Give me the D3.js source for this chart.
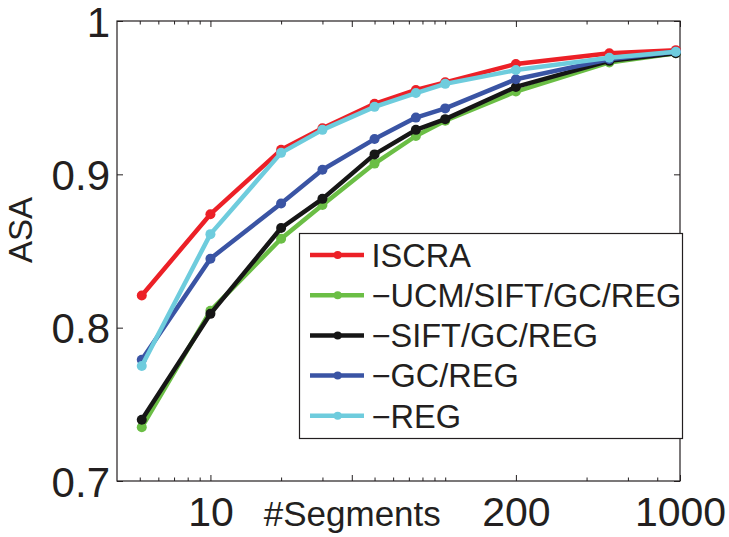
<!DOCTYPE html>
<html>
<head>
<meta charset="utf-8">
<script src="https://cdn.jsdelivr.net/npm/d3@7"></script>
<style>
  body { margin: 0; background: #fff; }
  svg { display: block; font-family: "Liberation Sans", Arial, Helvetica, sans-serif; }
</style>
</head>
<body>
<div id="main"></div>
<script>
// DATA
var segments = [5.1, 10, 20, 30, 50, 75, 100, 200, 500, 960]

var iscra      = [0.821, 0.874, 0.916, 0.930, 0.946, 0.955, 0.960, 0.972, 0.979, 0.981]
var noUcm      = [0.735, 0.811, 0.858, 0.880, 0.907, 0.925, 0.935, 0.954, 0.973, 0.979]
var noSift     = [0.740, 0.809, 0.865, 0.884, 0.913, 0.929, 0.936, 0.957, 0.974, 0.979]
var noGc       = [0.779, 0.845, 0.881, 0.903, 0.923, 0.937, 0.943, 0.962, 0.975, 0.980]
var noReg      = [0.775, 0.861, 0.914, 0.929, 0.944, 0.953, 0.959, 0.968, 0.976, 0.980]

var seriesNames  = ['ISCRA', '\u2212UCM/SIFT/GC/REG', '\u2212SIFT/GC/REG', '\u2212GC/REG', '\u2212REG']
var seriesValues = [iscra, noUcm, noSift, noGc, noReg]
var seriesColors = ['#ec2027', '#6bbe45', '#161616', '#3a54a4', '#6eccdd']

// x ticks: labelled ones and minor ones
var xMajorTicks  = [10, 40, 200, 1000]
var xMajorLabels = ['10', '#Segments', '200', '1000']
var xMinorTicks  = [5, 6, 7, 8, 9, 20, 30, 50, 60, 70, 80, 90, 100, 400, 600, 800]
var yTicks       = [0.7, 0.8, 0.9, 1]
var yTickLabels  = ['0.7', '0.8', '0.9', '1']

// LAYOUT
var width = 729, height = 537
var margin = {left: 117, top: 21, right: 49, bottom: 56}
var w = width - margin.left - margin.right
var h = height - margin.top - margin.bottom

var svg = d3.select('#main').append('svg')
  .attr('width', width)
  .attr('height', height)

var g = svg.append('g').attr('transform', `translate(${margin.left},${margin.top})`)

var x = d3.scaleLog().domain([4, 1000]).range([0, w])
var y = d3.scaleLinear().domain([0.7, 1]).range([h, 0])

// Axes (ticks point inward, like matlab)
function styleAxis(sel) {
  sel.select('.domain').remove()
  sel.selectAll('line').attr('stroke', '#231f20').attr('stroke-width', 1)
  sel.selectAll('text').attr('fill', '#231f20')
}

g.append('g').attr('transform', `translate(0,${h})`)
  .call(d3.axisBottom(x).tickValues(xMinorTicks).tickSize(-3.5).tickFormat(''))
  .call(styleAxis)
g.append('g')
  .call(d3.axisTop(x).tickValues(xMinorTicks).tickSize(-3.5).tickFormat(''))
  .call(styleAxis)
g.append('g')
  .call(d3.axisTop(x).tickValues(xMajorTicks).tickSize(-6).tickFormat(''))
  .call(styleAxis)

var xAxis = g.append('g').attr('transform', `translate(0,${h})`)
  .call(d3.axisBottom(x).tickValues(xMajorTicks).tickSize(-6)
    .tickFormat((d, i) => xMajorLabels[i]))
  .call(styleAxis)
xAxis.selectAll('text')
  .attr('y', 45).attr('dy', 0)
  .style('font-size', (d, i) => i == 1 ? '35px' : '41px')

var yAxis = g.append('g')
  .call(d3.axisLeft(y).tickValues(yTicks).tickSize(-6).tickPadding(7)
    .tickFormat((d, i) => yTickLabels[i]))
  .call(styleAxis)
yAxis.selectAll('text').style('font-size', '42px').attr('dy', '0.36em')

g.append('g').attr('transform', `translate(${w},0)`)
  .call(d3.axisRight(y).tickValues(yTicks).tickSize(-6).tickFormat(''))
  .call(styleAxis)

// Box
g.append('rect')
  .attr('x', 0).attr('y', 0).attr('width', w).attr('height', h)
  .attr('fill', 'none').attr('stroke', '#231f20').attr('stroke-width', 1.2)

// Axis titles
svg.append('text')
  .attr('transform', 'translate(32,230) rotate(-90)')
  .attr('text-anchor', 'middle')
  .style('font-size', '33px')
  .attr('fill', '#231f20')
  .text('ASA')

// Lines
var line = d3.line()
  .x((d, i) => x(segments[i]))
  .y(d => y(d))

var series = g.selectAll('g.series')
  .data(seriesValues)
  .join('g')
    .attr('class', 'series')

series.append('path')
  .attr('d', d => line(d))
  .attr('fill', 'none')
  .attr('stroke', (d, i) => seriesColors[i])
  .attr('stroke-width', 4.5)
  .attr('stroke-linejoin', 'round')

series.each(function(vals, si) {
  d3.select(this).selectAll('circle')
    .data(vals)
    .join('circle')
      .attr('cx', (d, i) => x(segments[i]))
      .attr('cy', d => y(d))
      .attr('r', 5)
      .attr('fill', seriesColors[si])
})

// Legend
var legend = svg.append('g')
legend.append('rect')
  .attr('x', 299.5).attr('y', 233.5).attr('width', 383).attr('height', 205)
  .attr('fill', '#fff').attr('stroke', '#231f20').attr('stroke-width', 1.2)

var items = legend.selectAll('g.item')
  .data(seriesNames)
  .join('g')
    .attr('class', 'item')
    .attr('transform', (d, i) => `translate(0,${255 + i * 40.2})`)

items.append('line')
  .attr('x1', 310).attr('x2', 364).attr('y1', 0).attr('y2', 0)
  .attr('stroke', (d, i) => seriesColors[i])
  .attr('stroke-width', 4.5)
items.append('circle')
  .attr('cx', 337.7).attr('cy', 0).attr('r', 4)
  .attr('fill', (d, i) => seriesColors[i])
items.append('text')
  .attr('x', 371.5).attr('y', 0).attr('dy', '0.36em')
  .style('font-size', '32.5px')
  .attr('fill', '#231f20')
  .text(d => d)
</script>
</body>
</html>
